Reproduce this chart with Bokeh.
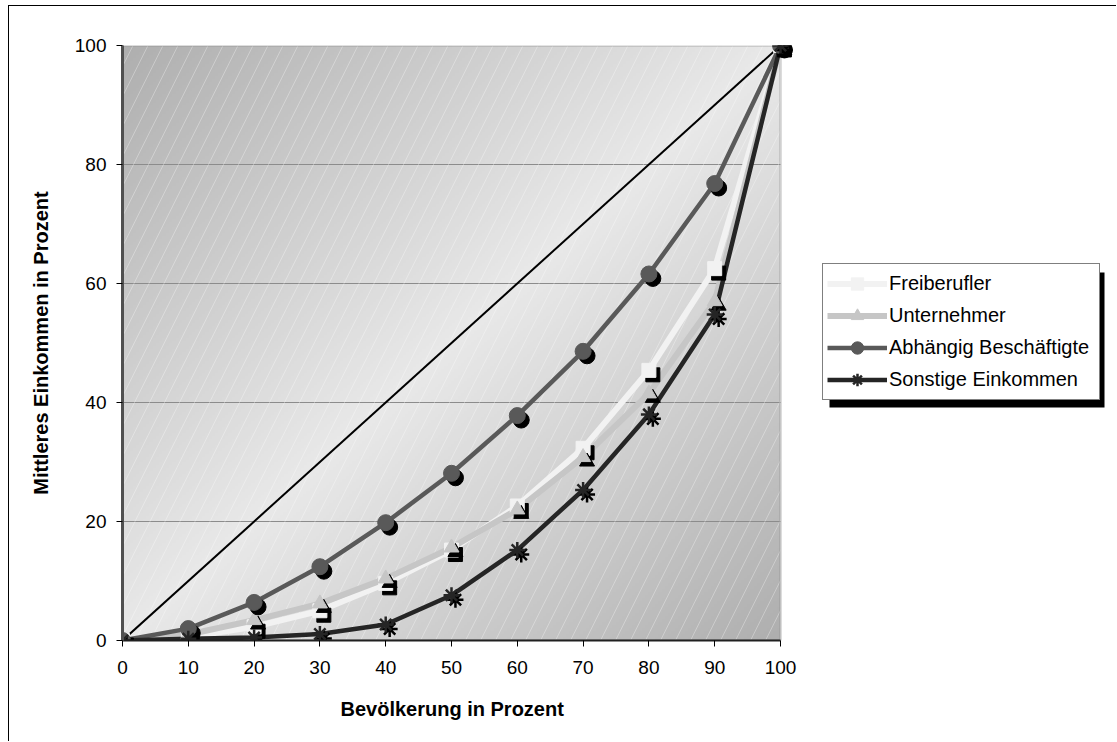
import numpy as np
from bokeh.plotting import figure
from bokeh.models import (ColumnDataSource, Legend, LegendItem, BoxAnnotation,
                          FixedTicker, Range1d, Title)
from bokeh.transform import dodge
from bokeh.embed import file_html
from bokeh.resources import INLINE

# ---- data ----
population = [0, 10, 20, 30, 40, 50, 60, 70, 80, 90, 100]
freiberufler = [0, 0.6, 2.3, 5.0, 9.6, 15.2, 22.6, 32.3, 45.4, 62.5, 100]
unternehmer = [0, 1.0, 3.4, 6.2, 10.4, 15.6, 22.0, 30.8, 41.5, 57.0, 100]
abhaengig = [0, 2.0, 6.4, 12.4, 19.8, 28.1, 37.8, 48.6, 61.6, 76.8, 100]
sonstige = [0, 0.3, 0.5, 1.1, 2.7, 7.6, 15.2, 25.3, 38.0, 54.8, 100]
equality = [0, 100]
x_ticks = [0, 10, 20, 30, 40, 50, 60, 70, 80, 90, 100]
y_ticks = [0, 20, 40, 60, 80, 100]
grid_y = [20, 40, 60, 80]

FONT = "Liberation Sans"

# figure sits 8px/5px inside the page, with a 1px black frame on left/top
W, H = 1108, 736
FRAME_LEFT = 113
FRAME_W = W - FRAME_LEFT
X_END = 100.0 * FRAME_W / 658.0   # plot area (0..100) is 658px wide

p = figure(width=W, height=H, x_range=Range1d(0, X_END), y_range=Range1d(0, 100),
           output_backend="svg", toolbar_location=None,
           min_border_left=FRAME_LEFT, min_border_right=0,
           min_border_top=39, min_border_bottom=102)
p.styles = {"margin-left": "8px", "margin-top": "5px",
            "border-left": "1px solid black", "border-top": "1px solid black"}
p.background_fill_color = "white"
p.border_fill_color = "white"
p.outline_line_color = None

# diagonal gradient background of the plot area
n = 200
u = np.linspace(0, 1, n)
U, V = np.meshgrid(u, u)
d = np.abs(U - V)
c = (233 - 58 * d).astype(np.uint32)
img = np.empty((n, n), dtype=np.uint32)
view = img.view(dtype=np.uint8).reshape((n, n, 4))
view[:, :, 0] = c
view[:, :, 1] = c
view[:, :, 2] = c
view[:, :, 3] = 255
p.image_rgba(image=[img], x=0, y=0, dw=100, dh=100, level="image")

# faint diagonal texture over the plot area
p.add_layout(BoxAnnotation(left=0, right=100, bottom=0, top=100,
                           fill_alpha=0, line_color=None, hatch_pattern="/",
                           hatch_color="white", hatch_alpha=0.3, hatch_scale=30,
                           hatch_weight=1, level="underlay"))

# horizontal gridlines
p.xgrid.visible = False
p.ygrid.visible = False
p.segment(x0=0, x1=100, y0=grid_y, y1=grid_y, line_color="#8c8c8c",
          line_width=1, level="underlay")

# plot-area border (top / right)
p.add_layout(BoxAnnotation(left=0, right=100, bottom=0, top=100, fill_alpha=0,
                           line_color="#8a8a8a", line_width=3, level="underlay"))

for ax in (p.xaxis, p.yaxis):
    ax.major_tick_in = 0
    ax.major_tick_out = 6
    ax.minor_tick_line_color = None
    ax.major_tick_line_color = "black"
    ax.major_label_text_font = FONT
    ax.major_label_text_font_size = "19px"
    ax.major_label_text_color = "black"
    ax.axis_label_text_font = FONT
    ax.axis_label_text_font_size = "20px"
    ax.axis_label_text_font_style = "bold"
    ax.axis_label_text_color = "black"

p.xaxis.ticker = FixedTicker(ticks=x_ticks)
p.yaxis.ticker = FixedTicker(ticks=y_ticks)
p.xaxis.bounds = (0, 100)
p.xaxis.axis_line_color = "#202020"
p.xaxis.axis_line_width = 2
p.yaxis.axis_line_color = "#505050"
p.yaxis.axis_line_width = 3
p.xaxis.major_label_standoff = 14
p.yaxis.major_label_standoff = 10
p.yaxis.axis_label = "Mittleres Einkommen in Prozent"
p.yaxis.axis_label_standoff = 20

# x axis title, centred under the 0..100 plot area
xtitle = Title(text="Bevölkerung in Prozent", align="left", offset=218,
               text_font=FONT, text_font_size="20px", text_font_style="bold",
               text_color="black")
props = Title.properties()
if "standoff" in props:
    xtitle.standoff = 39
elif "padding" in props:
    xtitle.padding = (29, 0, 0, 0)
p.add_layout(xtitle, "below")

# equality line
p.line(equality, equality, line_color="black", line_width=2)

src = ColumnDataSource(dict(x=population, f=freiberufler, u=unternehmer,
                            a=abhaengig, s=sonstige))
dx, dy = 0.6, -0.75

series = [
    ("Freiberufler", "f", "#f2f2f2", 6, "square", 14),
    ("Unternehmer", "u", "#c6c6c6", 6, "triangle", 15),
    ("Abhängig Beschäftigte", "a", "#595959", 4.5, "circle", 16),
    ("Sonstige Einkommen", "s", "#252525", 4.5, "asterisk", 16),
]

lines = []
for label, col, color, lw, marker, size in series:
    lines.append(p.line("x", col, source=src, line_color=color, line_width=lw,
                        line_join="round"))

items = []
for (label, col, color, lw, marker, size), ln in zip(series, lines):
    if marker == "asterisk":
        p.scatter(x=dodge("x", dx), y=dodge(col, dy), source=src, marker=marker,
                  size=size, line_color="black", line_width=2.5)
        mk = p.scatter("x", col, source=src, marker=marker, size=size,
                       line_color=color, line_width=2.5)
    else:
        p.scatter(x=dodge("x", dx), y=dodge(col, dy), source=src, marker=marker,
                  size=size, fill_color="black", line_color="black")
        mk = p.scatter("x", col, source=src, marker=marker, size=size,
                       fill_color=color, line_color=color)
    items.append(LegendItem(label=label, renderers=[ln, mk]))

# legend shadow (canvas px of the figure)
p.add_layout(BoxAnnotation(left=819, right=1094, top=265, bottom=400,
                           left_units="canvas", right_units="canvas",
                           top_units="canvas", bottom_units="canvas",
                           fill_color="black", fill_alpha=1, line_color=None,
                           level="annotation"))

legend = Legend(items=items, location=(700, 240), orientation="vertical",
                border_line_color="black", border_line_width=1,
                background_fill_color="white", background_fill_alpha=1,
                label_text_font=FONT, label_text_font_size="20px",
                label_text_color="black", glyph_width=60, glyph_height=31,
                spacing=1, padding=4, margin=0, label_standoff=2,
                label_height=31, label_width=206)
p.add_layout(legend, "center")

open("out.html", "w").write(file_html(p, INLINE))
